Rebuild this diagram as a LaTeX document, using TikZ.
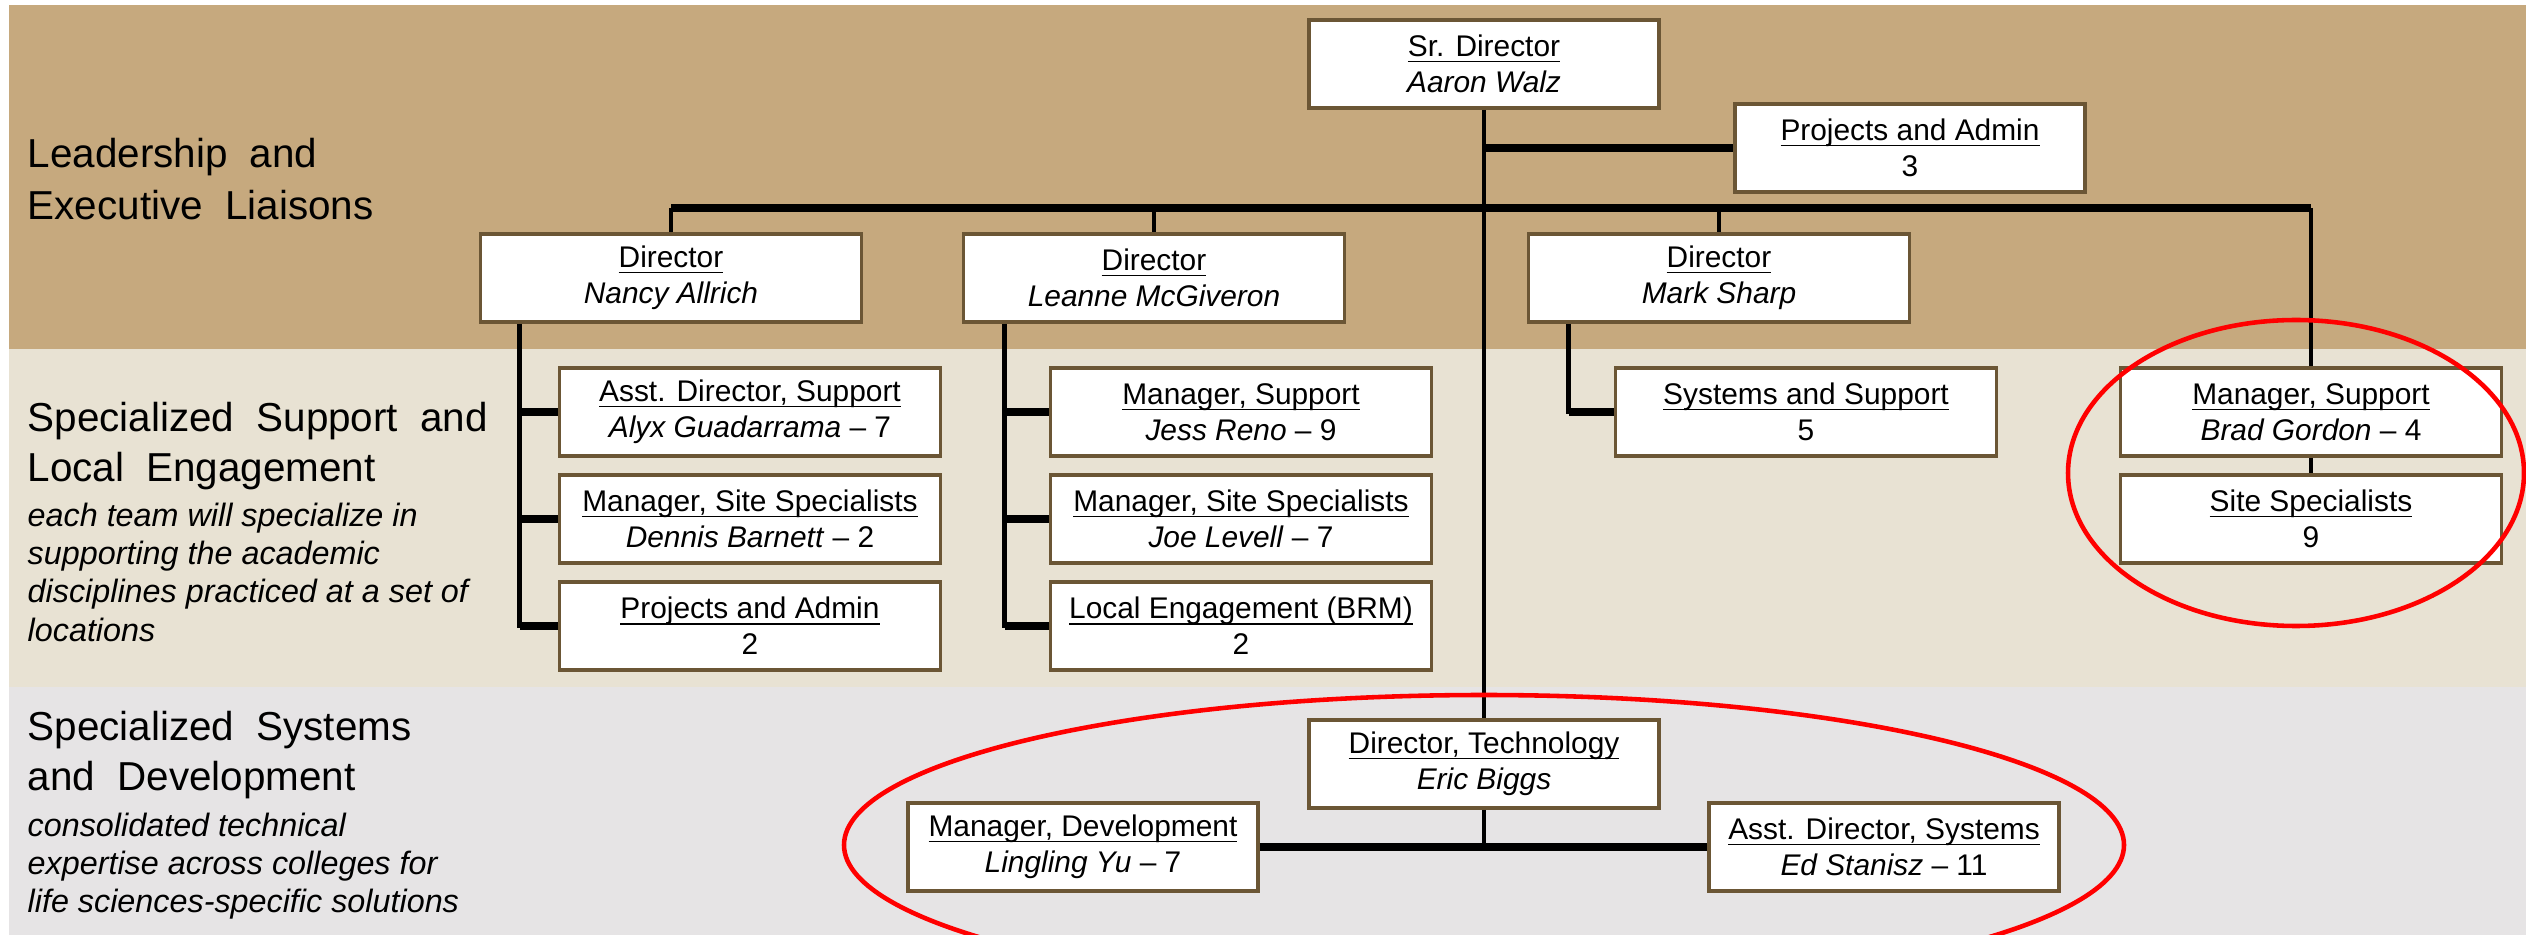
\documentclass[tikz,border=0pt]{standalone}
\usepackage{fontspec}
\setmainfont{Liberation Sans}
\usepackage{tikz}

\definecolor{tanband}{HTML}{C6A97E}
\definecolor{beigeband}{HTML}{E8E2D3}
\definecolor{grayband}{HTML}{E6E4E5}
\definecolor{boxbrown}{HTML}{6B5635}

\newcommand{\bandfont}{\fontsize{11.5}{14}\selectfont\spaceskip=0.55em\relax}
\newcommand{\roletitle}[1]{\underline{\raisebox{0pt}[\height][0pt]{#1}}}

\tikzset{
  orgbox/.style={draw=boxbrown, line width=1.1pt, fill=white, minimum height=8.8mm,
    align=center, inner sep=1pt, font=\fontsize{8.5}{10.2}\selectfont},
  widebox/.style={orgbox, minimum width=38.1mm},
  narrowbox/.style={orgbox, minimum width=35mm},
  vbar/.style={line width=1.4pt},
  hbar/.style={line width=2pt},
  ring/.style={draw=red, line width=1.3pt},
  bandlabel/.style={anchor=base west, inner sep=0pt, font=\bandfont},
  bandnote/.style={anchor=base west, inner sep=0pt,
    font=\fontsize{9.2}{11}\selectfont\itshape},
}

\begin{document}
\begin{tikzpicture}[x=0.1mm, y=-0.1mm]
     \useasboundingbox (0,0) rectangle (2526,935);
     \clip (0,0) rectangle (2526,935);
     \fill[white] (0,0) rectangle (2526,935);
     \fill[tanband] (9,5) rectangle (2526,349);
     \fill[beigeband] (9,349) rectangle (2526,687);
     \fill[grayband] (9,687) rectangle (2526,935);

     % band labels
     \node[bandlabel] (lead1) at (27,168) {Leadership and};
     \node[bandlabel] (lead2) at (27,220) {Executive Liaisons};
     \node[bandlabel] (supp1) at (27,432) {Specialized Support and};
     \node[bandlabel] (supp2) at (27,482) {Local Engagement};
     \node[bandnote] (supp3) at (27,527) {each team will specialize in};
     \node[bandnote] (supp4) at (27,565) {supporting the academic};
     \node[bandnote] (supp5) at (27,603) {disciplines practiced at a set of};
     \node[bandnote] (supp6) at (27,641) {locations};
     \node[bandlabel] (sys1) at (27,740) {Specialized Systems};
     \node[bandlabel] (sys2) at (27,790) {and Development};
     \node[bandnote] (sys3) at (27,836) {consolidated technical};
     \node[bandnote] (sys4) at (27,874) {expertise across colleges for};
     \node[bandnote] (sys5) at (27,912) {life sciences-specific solutions};

     % leadership
     \node[narrowbox] (srdir) at (1484,64) {\roletitle{Sr. Director}\\\textit{Aaron Walz}};
     \node[narrowbox] (pa3) at (1910,148) {\roletitle{Projects and Admin}\\3};
     \node[widebox] (nancy) at (671,278) {\roletitle{Director}\\\textit{Nancy Allrich}};
     \node[widebox] (leanne) at (1154,278) {\roletitle{Director}\\\textit{Leanne McGiveron}};
     \node[widebox] (mark) at (1719,278) {\roletitle{Director}\\\textit{Mark Sharp}};

     % support
     \node[widebox] (nasst) at (750,412) {\roletitle{Asst. Director, Support}\\\textit{Alyx Guadarrama} -- 7};
     \node[widebox] (nmgr) at (750,519) {\roletitle{Manager, Site Specialists}\\\textit{Dennis Barnett} -- 2};
     \node[widebox] (npa) at (750,626) {\roletitle{Projects and Admin}\\2};
     \node[widebox] (lmgr) at (1241,412) {\roletitle{Manager, Support}\\\textit{Jess Reno} -- 9};
     \node[widebox] (lsite) at (1241,519) {\roletitle{Manager, Site Specialists}\\\textit{Joe Levell} -- 7};
     \node[widebox] (lbrm) at (1241,626) {\roletitle{Local Engagement (BRM)}\\2};
     \node[widebox] (sys) at (1806,412) {\roletitle{Systems and Support}\\5};
     \node[widebox] (brad) at (2311,412) {\roletitle{Manager, Support}\\\textit{Brad Gordon} -- 4};
     \node[widebox] (site) at (2311,519) {\roletitle{Site Specialists}\\9};

     % systems
     \node[narrowbox] (dirtech) at (1484,764) {\roletitle{Director, Technology}\\\textit{Eric Biggs}};
     \node[narrowbox] (mgrdev) at (1083,847) {\roletitle{Manager, Development}\\\textit{Lingling Yu} -- 7};
     \node[narrowbox] (asstsys) at (1884,847) {\roletitle{Asst. Director, Systems}\\\textit{Ed Stanisz} -- 11};

     % lines
     \coordinate (bus) at (0,208);
     \draw[vbar] (srdir.south) -- (dirtech.north);
     \draw[hbar] (srdir.south |- pa3.west) -- (pa3.west);
     \draw[hbar] (nancy.north |- bus) -- (brad.north |- bus);
     \draw[vbar] (nancy.north |- bus) -- (nancy.north);
     \draw[vbar] (leanne.north |- bus) -- (leanne.north);
     \draw[vbar] (mark.north |- bus) -- (mark.north);
     \draw[vbar] (brad.north |- bus) -- (brad.north);

     \coordinate (nleg) at ([xshift=4.1mm]nancy.south west);
     \draw[vbar] (nleg) |- (npa.west);
     \draw[hbar] (nleg |- nasst.west) -- (nasst.west);
     \draw[hbar] (nleg |- nmgr.west) -- (nmgr.west);
     \draw[hbar] (nleg |- npa.west) -- (npa.west);

     \coordinate (lleg) at ([xshift=4.3mm]leanne.south west);
     \draw[vbar] (lleg) |- (lbrm.west);
     \draw[hbar] (lleg |- lmgr.west) -- (lmgr.west);
     \draw[hbar] (lleg |- lsite.west) -- (lsite.west);
     \draw[hbar] (lleg |- lbrm.west) -- (lbrm.west);

     \coordinate (mleg) at ([xshift=4.2mm]mark.south west);
     \draw[vbar] (mleg) |- (sys.west);
     \draw[hbar] (mleg |- sys.west) -- (sys.west);

     \draw[vbar] (brad.south) -- (site.north);
     \draw[vbar] (dirtech.south) -- (dirtech.south |- mgrdev.east);
     \draw[hbar] (mgrdev.east) -- (asstsys.west);

     % highlights
     \draw[ring] (2296,473) ellipse [x radius=22.8mm, y radius=15.3mm];
     \draw[ring] (1484,845) ellipse [x radius=64mm, y radius=15mm];
\end{tikzpicture}
\end{document}
